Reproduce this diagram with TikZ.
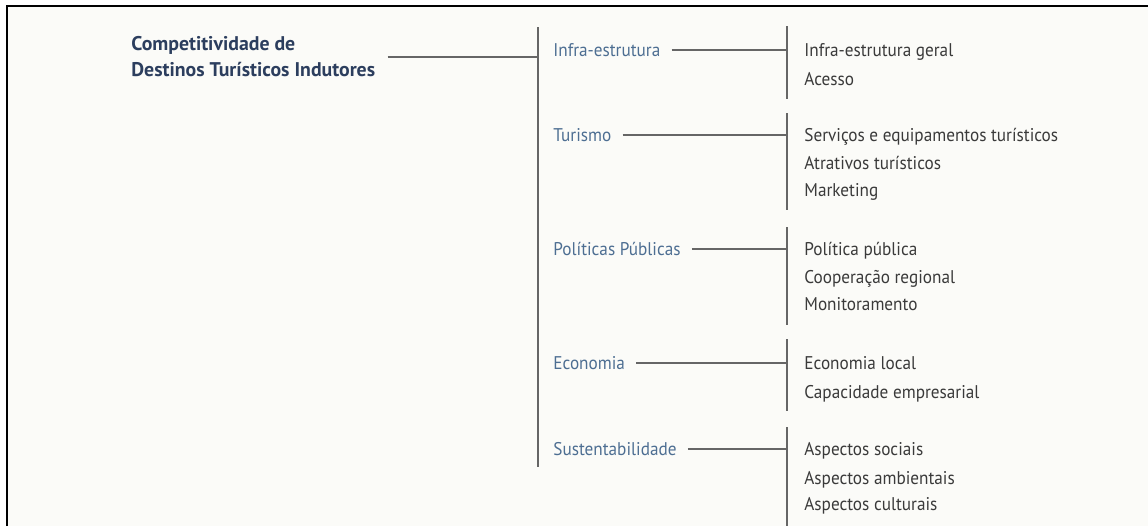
\documentclass[tikz,border=0pt]{standalone}
\usepackage{fontspec}
\setmainfont{PT Sans}[FakeStretch=0.935]
\newfontfamily\headfont{PT Sans}
\usetikzlibrary{positioning}
\definecolor{navy}{HTML}{2C3E5E}
\definecolor{slate}{HTML}{4D6E92}
\definecolor{ink}{HTML}{3A3A3A}
\definecolor{linegray}{HTML}{666666}
\definecolor{paper}{HTML}{FBFBF8}

\begin{document}
\begin{tikzpicture}[x=0.5pt,y=-0.5pt,
  head/.style={anchor=west,inner sep=0pt,align=left,text=navy,
    font=\headfont\fontsize{9.9}{13}\selectfont\bfseries},
  branch/.style={anchor=west,inner sep=0pt,text height=8pt,text depth=2pt,
    text=slate,font=\fontsize{9.2}{11}\selectfont},
  leaf/.style={branch,text=ink},
  link/.style={draw=linegray,line width=0.55pt}]
  % page
  \useasboundingbox (0,0) rectangle (1148,526);
  \fill[paper] (7,6) rectangle (1148,526);
  \draw[line width=1pt] (7,526) -- (7,6) -- (1148,6);

  % root
  \node[head] (comp) at (131,57) {Competitividade de\\Destinos Turísticos Indutores};
  \coordinate (b0t) at (538,27);
  \coordinate (b0b) at (538,467);
  \draw[link] (b0t) -- (b0b);
  \draw[link] ([xshift=6pt]comp.east) -- (comp.east -| b0t);

  % areas
  \node[branch] (infra) at (553,50) {Infra-estrutura};
  \node[branch] (tur) at (553,135) {Turismo};
  \node[branch] (pol) at (553,249) {Políticas Públicas};
  \node[branch] (eco) at (553,363) {Economia};
  \node[branch] (sus) at (553,449) {Sustentabilidade};

  % bars
  \coordinate (b1t) at (787,26);  \coordinate (b1b) at (787,99);
  \coordinate (b2t) at (787,113); \coordinate (b2b) at (787,210);
  \coordinate (b3t) at (787,227); \coordinate (b3b) at (787,325);
  \coordinate (b4t) at (787,339); \coordinate (b4b) at (787,411);
  \coordinate (b5t) at (787,427); \coordinate (b5b) at (787,526);
  \draw[link] (b1t) -- (b1b);
  \draw[link] (b2t) -- (b2b);
  \draw[link] (b3t) -- (b3b);
  \draw[link] (b4t) -- (b4b);
  \draw[link] (b5t) -- (b5b);
  \draw[link] ([xshift=5.5pt]infra.east) -- (infra.east -| b1t);
  \draw[link] ([xshift=5.5pt]tur.east) -- (tur.east -| b2t);
  \draw[link] ([xshift=5.5pt]pol.east) -- (pol.east -| b3t);
  \draw[link] ([xshift=5.5pt]eco.east) -- (eco.east -| b4t);
  \draw[link] ([xshift=5.5pt]sus.east) -- (sus.east -| b5t);

  % items
  \node[leaf] (infra1) at (804,50) {Infra-estrutura geral};
  \node[leaf] (infra2) at (804,79) {Acesso};
  \node[leaf] (tur1) at (804,135) {Serviços e equipamentos turísticos};
  \node[leaf] (tur2) at (804,163) {Atrativos turísticos};
  \node[leaf] (tur3) at (804,190) {Marketing};
  \node[leaf] (pol1) at (804,249) {Política pública};
  \node[leaf] (pol2) at (804,277) {Cooperação regional};
  \node[leaf] (pol3) at (804,304) {Monitoramento};
  \node[leaf] (eco1) at (804,363) {Economia local};
  \node[leaf] (eco2) at (804,392) {Capacidade empresarial};
  \node[leaf] (sus1) at (804,449) {Aspectos sociais};
  \node[leaf] (sus2) at (804,478) {Aspectos ambientais};
  \node[leaf] (sus3) at (804,504) {Aspectos culturais};
\end{tikzpicture}
\end{document}
